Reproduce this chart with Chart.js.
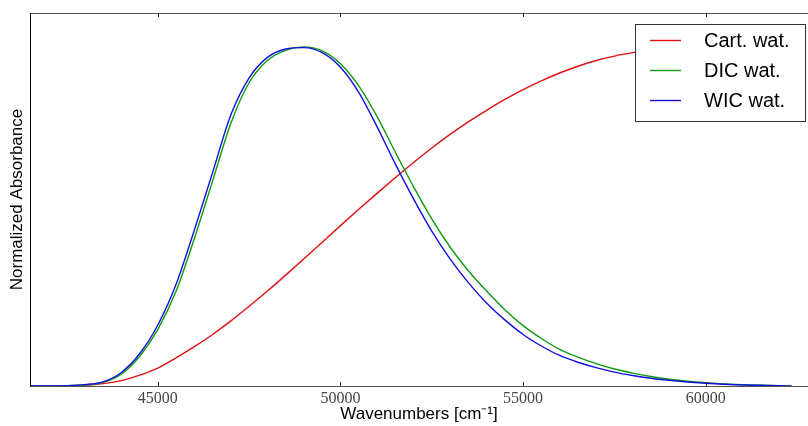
<!DOCTYPE html>
<html>
<head>
<meta charset="utf-8">
<script src="https://cdn.jsdelivr.net/npm/chart.js@4"></script>
<style>
  html, body { margin: 0; padding: 0; background: #fff; }
  #wrap { width: 808px; height: 426px; }
</style>
</head>
<body>
<div id="wrap"><canvas id="absChart" width="808" height="426"></canvas></div>
<script>
// wavenumbers in cm^-1
const wavenumbers = [41500, 42000, 42500, 43000, 43500, 44000, 44500, 45000, 45500, 46000,
  46500, 47000, 47500, 48000, 48500, 49000, 49500, 50000, 50500, 51000,
  51500, 52000, 52500, 53000, 53500, 54000, 54500, 55000, 55500, 56000,
  56500, 57000, 57500, 58000, 58500, 59000, 59500, 60000, 60500, 61000,
  61500, 62000, 62350];

const cartWat = [0, 0, 0.001, 0.002, 0.007, 0.016, 0.032, 0.053, 0.083, 0.116,
  0.152, 0.192, 0.235, 0.28, 0.327, 0.375, 0.424, 0.473, 0.521, 0.568,
  0.614, 0.659, 0.702, 0.742, 0.779, 0.813, 0.845, 0.874, 0.9, 0.923,
  0.943, 0.96, 0.973, 0.983, 0.991, 0.996, 0.999, 1.0, 0.998, 0.994,
  0.988, 0.982, 0.977];

const dicWat = [0, 0, 0.001, 0.003, 0.011, 0.035, 0.087, 0.167, 0.28, 0.435,
  0.605, 0.775, 0.895, 0.96, 0.99, 1.0, 0.988, 0.95, 0.885, 0.795,
  0.69, 0.588, 0.493, 0.41, 0.34, 0.28, 0.225, 0.178, 0.14, 0.108,
  0.085, 0.066, 0.05, 0.038, 0.028, 0.02, 0.014, 0.01, 0.006, 0.004,
  0.002, 0.001, 0];

const wicWat = [0, 0, 0.001, 0.004, 0.012, 0.04, 0.095, 0.18, 0.3, 0.46,
  0.63, 0.8, 0.909, 0.969, 0.994, 0.998, 0.983, 0.94, 0.866, 0.765,
  0.655, 0.552, 0.457, 0.375, 0.305, 0.245, 0.195, 0.152, 0.118, 0.09,
  0.07, 0.054, 0.041, 0.031, 0.023, 0.017, 0.012, 0.008, 0.005, 0.003,
  0.002, 0.001, 0];

const xTicks = [45000, 50000, 55000, 60000];

function toPoints(values) {
  return values.map((v, i) => ({ x: wavenumbers[i], y: v }));
}

// frame, inward ticks and the boxed legend, matplotlib style
const framePlugin = {
  id: 'frame',
  afterDatasetsDraw(chart) {
    const { ctx, chartArea: a, scales } = chart;
    ctx.save();
    ctx.lineWidth = 1;
    ctx.strokeStyle = '#555';
    ctx.beginPath();
    ctx.moveTo(a.left, a.top + 0.5);
    ctx.lineTo(a.right, a.top + 0.5);
    ctx.moveTo(a.left, a.bottom + 0.5);
    ctx.lineTo(a.right, a.bottom + 0.5);
    ctx.stroke();
    ctx.strokeStyle = '#000';
    ctx.beginPath();
    ctx.moveTo(a.left + 0.5, a.top);
    ctx.lineTo(a.left + 0.5, a.bottom + 1);
    ctx.stroke();
    ctx.strokeStyle = '#222';
    ctx.beginPath();
    xTicks.forEach(t => {
      const px = Math.round(scales.x.getPixelForValue(t)) + 0.5;
      ctx.moveTo(px, a.bottom);
      ctx.lineTo(px, a.bottom - 4);
      ctx.moveTo(px, a.top);
      ctx.lineTo(px, a.top + 4);
    });
    ctx.stroke();

    // legend
    const box = { x: 635.5, y: 24.5, w: 170, h: 97 };
    ctx.fillStyle = '#fff';
    ctx.fillRect(box.x, box.y, box.w, box.h);
    ctx.strokeStyle = '#333';
    ctx.strokeRect(box.x, box.y, box.w, box.h);
    ctx.font = '20px "Liberation Sans", Arial, sans-serif';
    ctx.textBaseline = 'middle';
    ctx.textAlign = 'left';
    chart.data.datasets.forEach((ds, i) => {
      const y = 40 + i * 30;
      ctx.strokeStyle = ds.borderColor;
      ctx.lineWidth = 1.4;
      ctx.beginPath();
      ctx.moveTo(650, y + 0.5);
      ctx.lineTo(681, y + 0.5);
      ctx.stroke();
      ctx.fillStyle = '#000';
      ctx.fillText(ds.label, 704, y + 1);
    });
    ctx.restore();
  }
};

new Chart(document.getElementById('absChart').getContext('2d'), {
  type: 'line',
  data: {
    datasets: [
      { label: 'Cart. wat.', data: toPoints(cartWat), borderColor: '#e01010', order: 2 },
      { label: 'DIC wat.', data: toPoints(dicWat), borderColor: '#109a10', order: 1 },
      { label: 'WIC wat.', data: toPoints(wicWat), borderColor: '#1010e0', order: 0 }
    ]
  },
  options: {
    responsive: false,
    animation: false,
    layout: { padding: { top: 13, right: 0, left: 0, bottom: 0 } },
    elements: {
      point: { radius: 0 },
      line: { borderWidth: 1.4, cubicInterpolationMode: 'monotone', fill: false }
    },
    plugins: {
      legend: { display: false },
      tooltip: { enabled: false }
    },
    scales: {
      x: {
        type: 'linear',
        min: 41500,
        max: 62800,
        grid: { display: false, drawTicks: false },
        border: { display: false },
        afterBuildTicks: (scale) => { scale.ticks = xTicks.map(v => ({ value: v })); },
        afterFit: (scale) => { scale.height = 40; },
        ticks: {
          padding: 3,
          color: '#444',
          font: { family: '"Liberation Serif", "DejaVu Serif", serif', size: 16 },
          callback: (v) => String(v)
        },
        title: {
          display: true,
          text: 'Wavenumbers [cm⁻¹]',
          color: '#000',
          font: { family: '"Liberation Sans", Arial, sans-serif', size: 17 },
          padding: { top: 0, bottom: 1 }
        }
      },
      y: {
        min: 0,
        max: 1.1,
        grid: { display: false, drawTicks: false },
        border: { display: false },
        ticks: { display: false },
        afterFit: (scale) => { scale.width = 30; },
        title: {
          display: true,
          text: 'Normalized Absorbance',
          color: '#000',
          font: { family: '"Liberation Sans", Arial, sans-serif', size: 17 },
          padding: { top: 7, bottom: 0 }
        }
      }
    }
  },
  plugins: [framePlugin]
});
</script>
</body>
</html>
